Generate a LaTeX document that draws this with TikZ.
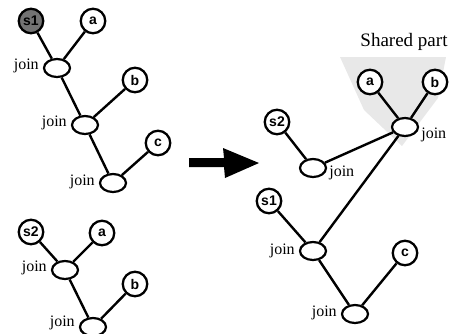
\documentclass[tikz,border=0pt]{standalone}
\usepackage{fontspec}
\setmainfont{Liberation Serif}
\newfontfamily\leaffont{Liberation Sans}
\usetikzlibrary{shapes.geometric}

\begin{document}
\begin{tikzpicture}[x=1pt,y=-1pt,
  leaf/.style={circle,draw,fill=white,line width=2.3pt,minimum size=24.5pt,inner sep=0pt,
    font=\leaffont\bfseries\fontsize{14}{14}\selectfont},
  joinnode/.style={ellipse,draw,fill=white,line width=2.2pt,minimum width=26pt,minimum height=18pt,inner sep=0pt},
  edge/.style={line width=2.4pt},
  lbl/.style={font=\fontsize{16}{16}\selectfont,inner sep=0pt}]
\useasboundingbox (0,0) rectangle (454,333);

% shaded region marking the shared subtree
\fill[black!9] (340,57) -- (446,57) -- (438,98) -- (402,146) -- (364,110) -- cycle;
\node[font=\fontsize{19}{19}\selectfont,inner sep=0pt] (shared) at (404,42) {Shared part};

% ---- first query tree (top left)
\node[leaf,fill=black!55] (s1A) at (31,21) {s1};
\node[leaf] (aA) at (93,21) {a};
\node[joinnode] (j1A) at (57,68) {};
\node[leaf] (bA) at (135,80) {b};
\node[joinnode] (j2A) at (85,125) {};
\node[leaf] (cA) at (158,143) {c};
\node[joinnode] (j3A) at (113,183) {};
\node[lbl,anchor=east] (l1A) at ([xshift=-4pt,yshift=2pt]j1A.west) {join};
\node[lbl,anchor=east] (l2A) at ([xshift=-4pt,yshift=2pt]j2A.west) {join};
\node[lbl,anchor=east] (l3A) at ([xshift=-4pt,yshift=1pt]j3A.west) {join};
\draw[edge] (s1A) -- (j1A);
\draw[edge] (aA) -- (j1A);
\draw[edge] (j1A) -- (j2A);
\draw[edge] (bA) -- (j2A);
\draw[edge] (j2A) -- (j3A);
\draw[edge] (cA) -- (j3A);

% ---- second query tree (bottom left)
\node[leaf] (s2B) at (31,232) {s2};
\node[leaf] (aB) at (102,233) {a};
\node[joinnode] (j1B) at (65,270) {};
\node[leaf] (bB) at (135,284) {b};
\node[joinnode] (j2B) at (93,327) {};
\node[lbl,anchor=east] (l1B) at ([xshift=-4pt,yshift=2pt]j1B.west) {join};
\node[lbl,anchor=east] (l2B) at ([xshift=-4pt,yshift=4pt]j2B.west) {join};
\draw[edge] (s2B) -- (j1B);
\draw[edge] (aB) -- (j1B);
\draw[edge] (j1B) -- (j2B);
\draw[edge] (bB) -- (j2B);

% ---- transformation arrow
\coordinate (arrA) at (189,158);
\fill (arrA) -- (224,158) -- (223,148) -- (259,163) -- (225,178) -- (224,167) -- (189,167) -- cycle;

% ---- merged plan (right)
\node[leaf] (aR) at (370,82) {a};
\node[leaf] (bR) at (435,82) {b};
\node[joinnode] (jS) at (405,127) {};
\node[leaf] (s2R) at (277,122) {s2};
\node[joinnode] (jR2) at (313,168) {};
\node[leaf] (s1R) at (269,201) {s1};
\node[joinnode] (jR1) at (313,251) {};
\node[leaf] (cR) at (405,253) {c};
\node[joinnode] (jR3) at (355,314) {};
\node[lbl,anchor=west] (lS) at ([xshift=2pt,yshift=-8pt]jS.east) {join};
\node[lbl,anchor=west] (lR2) at ([xshift=2pt,yshift=-5pt]jR2.east) {join};
\node[lbl,anchor=east] (lR1) at ([xshift=-4pt,yshift=0pt]jR1.west) {join};
\node[lbl,anchor=east] (lR3) at ([xshift=-4pt,yshift=1pt]jR3.west) {join};
\draw[edge] (aR) -- (jS);
\draw[edge] (bR) -- (jS);
\draw[edge] (s2R) -- (jR2);
\draw[edge] (jR2) -- (jS);
\draw[edge] (s1R) -- (jR1);
\draw[edge] (jR1) -- (jS);
\draw[edge] (jR1) -- (jR3);
\draw[edge] (cR) -- (jR3);
\end{tikzpicture}
\end{document}
